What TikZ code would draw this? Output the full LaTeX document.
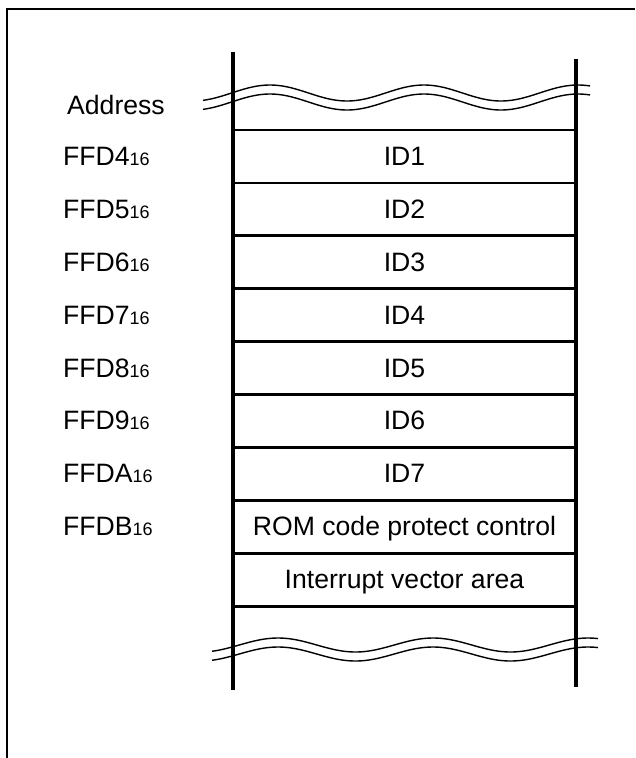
\documentclass[tikz,border=0pt]{standalone}
\usepackage{fontspec}
\setmainfont{Liberation Sans}
\newcommand\hexsub[1]{{\fontsize{18}{21}\selectfont #1}}
\begin{document}
\begin{tikzpicture}[x=1pt,y=-1pt,
  frameline/.style={line width=2.8pt},
  barline/.style={line width=3.8pt},
  rowline/.style={line width=2.8pt},
  waveline/.style={line width=1.4pt},
  celltext/.style={font=\fontsize{26.6}{30}\selectfont, anchor=base, inner sep=0pt},
  addrtext/.style={font=\fontsize{26.6}{30}\selectfont, anchor=base west, inner sep=0pt}]
\useasboundingbox (0,0) rectangle (635,758);
% frame (top and left edges)
\coordinate (fbl) at (7,758);
\coordinate (ftl) at (7,9);
\coordinate (ftr) at (635,9);
\draw[frameline] (fbl) -- (ftl) -- (ftr);
% vertical bars
\coordinate (lt) at (233,52);
\coordinate (lb) at (233,690);
\coordinate (rt) at (576,59);
\coordinate (rb) at (576,687);
\draw[barline] (lt) -- (lb);
\draw[barline] (rt) -- (rb);
% row lines
\foreach \k in {0,...,9} {
  \coordinate (rl\k) at (233,{130+52.9*\k});
  \coordinate (rr\k) at (576,{130+52.9*\k});
  \draw[rowline] (rl\k) -- (rr\k);
}
% cell texts
\foreach \t [count=\i from 0] in {ID1,ID2,ID3,ID4,ID5,ID6,ID7,ROM code protect control,Interrupt vector area} {
  \node[celltext] (cell\i) at (404.5,{130+52.9*\i+26.45+9}) {\t};
}
% address labels
\node[addrtext] (addr) at (67,114) {Address};
\foreach \a [count=\i from 0] in {4,5,6,7,8,9,A,B} {
  \node[addrtext] (fa\i) at (63,{130+52.9*\i+26.45+9}) {FFD\a\hexsub{16}};
}
% top break waves
\draw[waveline] plot[domain=203:590, samples=120] (\x,{93-8*cos(2.3377*(\x-270))});
\draw[waveline] plot[domain=203:590, samples=120] (\x,{102-8*cos(2.3377*(\x-270))});
% bottom break waves
\draw[waveline] plot[domain=212:598, samples=120] (\x,{645-7*cos(2.3226*(\x-278))});
\draw[waveline] plot[domain=212:598, samples=120] (\x,{654-7*cos(2.3226*(\x-278))});
\end{tikzpicture}
\end{document}
